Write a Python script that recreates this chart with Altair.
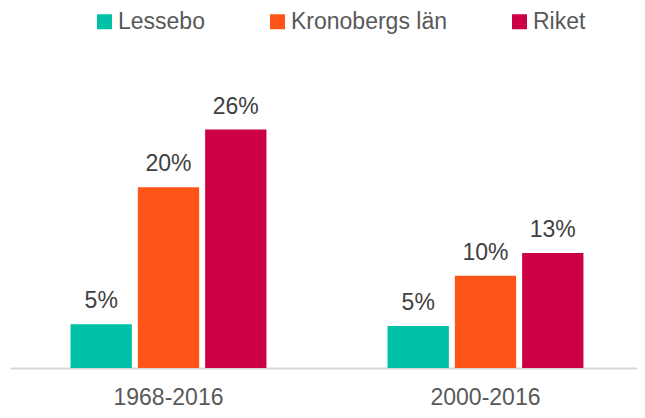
import altair as alt
import pandas as pd

periods = ["1968-2016", "2000-2016"]
series = ["Lessebo", "Kronobergs län", "Riket"]
lessebo = [4.8, 4.6]
kronoberg = [19.8, 10.1]
riket = [26.1, 12.6]
lessebo_lbl = ["5%", "5%"]
kronoberg_lbl = ["20%", "10%"]
riket_lbl = ["26%", "13%"]
colors = ["#00C0A8", "#FF5417", "#CC0044"]

rows = []
for i, p in enumerate(periods):
    for s, vals, lbls in zip(series, [lessebo, kronoberg, riket],
                             [lessebo_lbl, kronoberg_lbl, riket_lbl]):
        rows.append({"period": p, "series": s, "value": vals[i], "label": lbls[i]})
df = pd.DataFrame(rows)

FONT = "Liberation Sans"
FS = 23

base = alt.Chart(df).encode(
    x=alt.X("period:N", sort=periods, title=None,
            scale=alt.Scale(paddingInner=0, paddingOuter=0, range=[0, 634]),
            axis=alt.Axis(labelAngle=0, labelFont=FONT, labelFontSize=FS,
                          labelColor="#595959", labelPadding=18, ticks=False,
                          domainColor="#d9d9d9", domainWidth=2)),
    xOffset=alt.XOffset("series:N", sort=series,
                        scale=alt.Scale(paddingInner=0.089, paddingOuter=0.90)),
    y=alt.Y("value:Q", scale=alt.Scale(domain=[0, 30]), axis=None),
)

bars = base.mark_bar().encode(
    color=alt.Color("series:N", sort=series,
                    scale=alt.Scale(domain=series, range=colors),
                    legend=alt.Legend(title=None, orient="none", direction="horizontal",
                                      legendX=83, legendY=-84,
                                      symbolType="square", symbolSize=225,
                                      symbolStrokeWidth=0, symbolOpacity=1,
                                      labelFont=FONT, labelFontSize=FS,
                                      labelColor="#595959", labelOffset=2,
                                      columnPadding=61, labelLimit=400))
)

text = base.mark_text(dy=-16, font=FONT, fontSize=FS, color="#404040",
                      baseline="alphabetic").encode(text="label:N")

chart = (bars + text).properties(
    width=627, height=274,
    autosize=alt.AutoSizeParams(type="none"),
    padding={"left": 2, "top": 86, "right": 0, "bottom": 42},
).configure_view(stroke=None)

chart.save("out.html", embed_options={"renderer": "svg", "actions": False})
